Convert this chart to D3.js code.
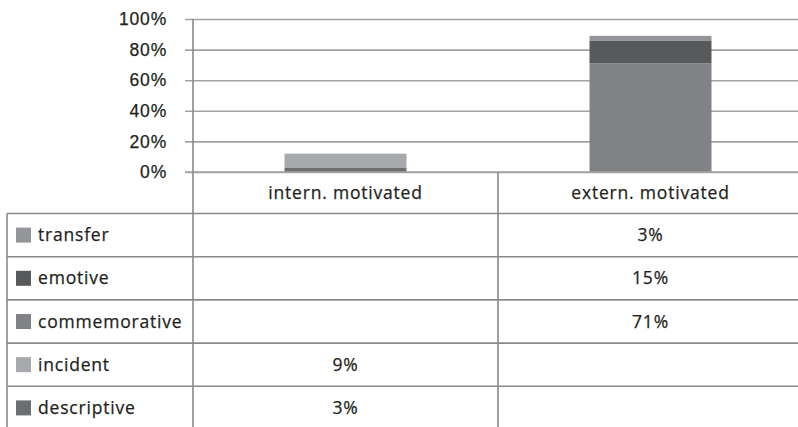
<!DOCTYPE html>
<html>
<head>
<meta charset="utf-8">
<script src="https://cdn.jsdelivr.net/npm/d3@7"></script>
<style>
  body { margin: 0; background: #fff; }
  svg { display: block; font-family: "Open Sans", sans-serif; }
  svg text { font-size: 17.5px; letter-spacing: 0.8px; fill: #231f20; stroke: #231f20; stroke-width: 0.25px; }
</style>
</head>
<body>
<div id="container"></div>
<script>
// data (percent, null = empty cell)
const categories = ["intern. motivated", "extern. motivated"];
const seriesNames = ["descriptive", "incident", "commemorative", "emotive", "transfer"];
const descriptive = [3, null];
const incident = [9, null];
const commemorative = [null, 71];
const emotive = [null, 15];
const transfer = [null, 3];
const yTicks = [0, 20, 40, 60, 80, 100];
const colors = ["#6d6e71", "#a7a9ac", "#808285", "#58595b", "#939598"];

const width = 798, height = 427;
const plotLeft = 193, plotTop = 19, plotBottom = 172;
const tableLeft = 7, tableTop = 213.5, rowH = 43.2;

const seriesValues = [descriptive, incident, commemorative, emotive, transfer];
const rows = categories.map((c, i) => {
  const r = {category: c};
  seriesNames.forEach((s, j) => r[s] = seriesValues[j][i] || 0);
  return r;
});
const stacked = d3.stack().keys(seriesNames)(rows);

const svg = d3.select("#container").append("svg")
  .attr("width", width)
  .attr("height", height);

const xScale = d3.scaleBand()
  .domain(categories)
  .range([plotLeft, plotLeft + 2 * 305]);

const yScale = d3.scaleLinear()
  .domain([0, 100])
  .range([plotBottom, plotTop]);

const color = d3.scaleOrdinal().domain(seriesNames).range(colors);

// gridlines + y labels
const yAxis = g => g
  .call(d3.axisLeft(yScale).tickValues(yTicks).tickFormat(d => d + "%")
    .tickSize(-(width - plotLeft)).tickPadding(26))
  .call(g => g.select(".domain").remove())
  .call(g => g.selectAll(".tick line")
    .attr("x1", -8)
    .attr("stroke", "#a3a3a3").attr("stroke-width", 1.6))
  .call(g => g.selectAll(".tick text")
    .attr("fill", null)
    .attr("font-family", null).attr("font-size", null));

svg.append("g")
  .attr("transform", `translate(${plotLeft},0)`)
  .call(yAxis);

// stacked bars
const barW = xScale.bandwidth() * 0.4;
svg.append("g").selectAll("g")
  .data(stacked)
  .join("g")
  .attr("fill", d => color(d.key))
  .selectAll("rect")
  .data(d => d)
  .join("rect")
  .attr("x", d => xScale(d.data.category) + (xScale.bandwidth() - barW) / 2)
  .attr("width", barW)
  .attr("y", d => yScale(d[1]))
  .attr("height", d => yScale(d[0]) - yScale(d[1]));

// table lines
const lineColor = "#8a8a8a";
const lines = svg.append("g").attr("stroke", lineColor).attr("stroke-width", 1.6);
lines.append("line")
  .attr("x1", plotLeft - 8).attr("x2", width)
  .attr("y1", plotBottom).attr("y2", plotBottom)
  .attr("stroke", "#a3a3a3");
lines.append("line")
  .attr("x1", plotLeft).attr("x2", plotLeft)
  .attr("y1", plotTop).attr("y2", height);
lines.append("line")
  .attr("x1", xScale(categories[1])).attr("x2", xScale(categories[1]))
  .attr("y1", plotBottom).attr("y2", height);
lines.append("line")
  .attr("x1", tableLeft).attr("x2", tableLeft)
  .attr("y1", tableTop).attr("y2", height);

const tableRows = seriesNames.slice().reverse();
lines.selectAll(".hline")
  .data(d3.range(tableRows.length))
  .join("line")
  .attr("class", "hline")
  .attr("x1", tableLeft).attr("x2", width)
  .attr("y1", i => tableTop + i * rowH).attr("y2", i => tableTop + i * rowH);

// header row
svg.append("g").selectAll("text")
  .data(categories)
  .join("text")
  .attr("x", d => xScale(d) + xScale.bandwidth() / 2)
  .attr("y", (plotBottom + tableTop) / 2)
  .attr("dy", "0.35em")
  .attr("text-anchor", "middle")
  .text(d => d);

// legend column + values
const rowG = svg.append("g").selectAll("g")
  .data(tableRows)
  .join("g")
  .attr("transform", (d, i) => `translate(0,${tableTop + i * rowH + rowH / 2})`);

rowG.append("rect")
  .attr("x", 16).attr("y", -7.5)
  .attr("width", 15).attr("height", 15)
  .attr("fill", d => color(d));

rowG.append("text")
  .attr("x", 38).attr("dy", "0.35em")
  .text(d => d);

rowG.selectAll(".val")
  .data(s => categories.map((c, i) => ({c, v: seriesValues[seriesNames.indexOf(s)][i]})))
  .join("text")
  .attr("class", "val")
  .attr("x", d => xScale(d.c) + xScale.bandwidth() / 2)
  .attr("dy", "0.35em")
  .attr("text-anchor", "middle")
  .text(d => d.v == null ? "" : d.v + "%");
</script>
</body>
</html>
